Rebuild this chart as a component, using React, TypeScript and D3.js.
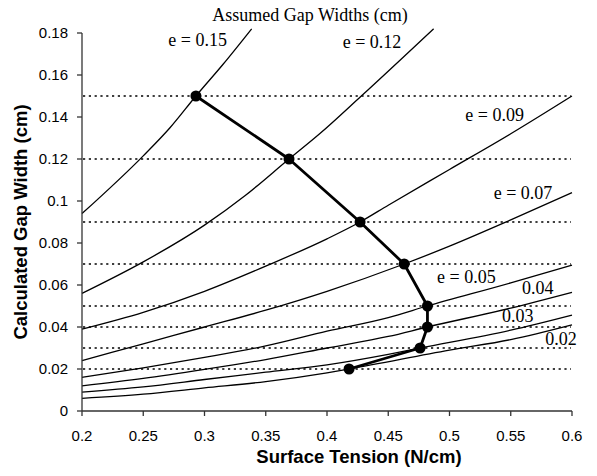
import React from "react";
import * as d3 from "d3";

// ---- data ----
const xTicks = [0.2, 0.25, 0.3, 0.35, 0.4, 0.45, 0.5, 0.55, 0.6];
const yTicks = [0, 0.02, 0.04, 0.06, 0.08, 0.1, 0.12, 0.14, 0.16, 0.18];
const guideLevels = [0.02, 0.03, 0.04, 0.05, 0.07, 0.09, 0.12, 0.15];

const curveE015: [number, number][] = [
  [0.2, 0.094], [0.25, 0.1215], [0.272, 0.135], [0.293, 0.15], [0.315, 0.165], [0.3385, 0.182],
];
const curveE012: [number, number][] = [
  [0.2, 0.056], [0.25, 0.071], [0.3, 0.0885], [0.333, 0.1025], [0.369, 0.12], [0.394, 0.132], [0.428, 0.15], [0.487, 0.182],
];
const curveE009: [number, number][] = [
  [0.2, 0.039], [0.25, 0.047], [0.3, 0.057], [0.35, 0.069], [0.4, 0.082], [0.427, 0.09], [0.45, 0.098], [0.5, 0.115], [0.55, 0.132], [0.6, 0.15],
];
const curveE007: [number, number][] = [
  [0.2, 0.024], [0.25, 0.032], [0.3, 0.04], [0.35, 0.048], [0.4, 0.057], [0.463, 0.07], [0.5, 0.0785], [0.55, 0.091], [0.6, 0.104],
];
const curveE005: [number, number][] = [
  [0.2, 0.016], [0.25, 0.0205], [0.3, 0.0255], [0.35, 0.031], [0.4, 0.038], [0.45, 0.0445], [0.482, 0.05], [0.55, 0.061], [0.6, 0.0695],
];
const curveE004: [number, number][] = [
  [0.2, 0.012], [0.25, 0.0155], [0.3, 0.0198], [0.35, 0.0245], [0.4, 0.03], [0.45, 0.0355], [0.482, 0.04], [0.55, 0.049], [0.6, 0.0565],
];
const curveE003: [number, number][] = [
  [0.2, 0.009], [0.25, 0.0115], [0.3, 0.015], [0.35, 0.0185], [0.4, 0.022], [0.45, 0.027], [0.476, 0.03], [0.55, 0.0385], [0.6, 0.0457],
];
const curveE002: [number, number][] = [
  [0.2, 0.006], [0.25, 0.008], [0.3, 0.011], [0.35, 0.014], [0.4, 0.0182], [0.418, 0.02], [0.5, 0.029], [0.55, 0.034], [0.6, 0.041],
];
const solutionPoints: [number, number][] = [
  [0.293, 0.15], [0.369, 0.12], [0.427, 0.09], [0.463, 0.07], [0.482, 0.05], [0.482, 0.04], [0.476, 0.03], [0.418, 0.02],
];
const curveLabelTexts = ["e = 0.15", "e = 0.12", "e = 0.09", "e = 0.07", "e = 0.05", "0.04", "0.03", "0.02"];
const curveLabelX = [0.2705, 0.4128, 0.5129, 0.5361, 0.4898, 0.5592, 0.5429, 0.5782];
const curveLabelY = [0.1736, 0.1729, 0.1382, 0.101, 0.0611, 0.0559, 0.0424, 0.0313];

const curves = [curveE015, curveE012, curveE009, curveE007, curveE005, curveE004, curveE003, curveE002];

// ---- layout ----
const W = 597;
const H = 476;
const left = 82;
const right = 572;
const top = 33;
const bottom = 411;

export default function App() {
  const x = d3.scaleLinear().domain([0.2, 0.6]).range([left, right]);
  const y = d3.scaleLinear().domain([0, 0.18]).range([bottom, top]);
  const line = d3
    .line<[number, number]>()
    .x((d) => x(d[0]))
    .y((d) => y(d[1]))
    .curve(d3.curveMonotoneX);
  const straight = d3
    .line<[number, number]>()
    .x((d) => x(d[0]))
    .y((d) => y(d[1]));

  const sans = "'Liberation Sans', Arial, Helvetica, sans-serif";
  const serif = "'Liberation Serif', 'Times New Roman', Times, serif";

  return (
    <svg
      width={W}
      height={H}
      style={{ position: "absolute", left: 0, top: 0, background: "#fff" }}
    >
      <rect x={0} y={0} width={W} height={H} fill="#fff" />
      {/* dotted guide lines */}
      {guideLevels.map((v) => (
        <line
          key={"g" + v}
          x1={x(0.2) + 1}
          x2={x(0.6) - 1}
          y1={y(v)}
          y2={y(v)}
          stroke="#000"
          strokeWidth={1.3}
          strokeDasharray="2.2 3.6"
        />
      ))}
      {/* curves */}
      {curves.map((c, i) => (
        <path key={"c" + i} d={line(c) || ""} fill="none" stroke="#000" strokeWidth={1.3} />
      ))}
      {/* solution path */}
      <path d={straight(solutionPoints) || ""} fill="none" stroke="#000" strokeWidth={2.8} strokeLinejoin="round" />
      {solutionPoints.map((p, i) => (
        <circle key={"p" + i} cx={x(p[0])} cy={y(p[1])} r={5.5} fill="#000" />
      ))}
      {/* axes */}
      <line x1={left} x2={left} y1={top} y2={bottom} stroke="#333" strokeWidth={1.3} />
      <line x1={left} x2={right} y1={bottom} y2={bottom} stroke="#333" strokeWidth={1.3} />
      {yTicks.map((v) => (
        <g key={"yt" + v}>
          <line x1={left - 5} x2={left} y1={y(v)} y2={y(v)} stroke="#333" strokeWidth={1.3} />
          <text
            x={left - 14}
            y={y(v)}
            dy="0.36em"
            textAnchor="end"
            fontFamily={sans}
            fontSize={15}
            fill="#000"
          >
            {String(v)}
          </text>
        </g>
      ))}
      {xTicks.map((v) => (
        <g key={"xt" + v}>
          <line x1={x(v)} x2={x(v)} y1={bottom} y2={bottom + 5} stroke="#333" strokeWidth={1.3} />
          <text
            x={x(v)}
            y={bottom + 30}
            textAnchor="middle"
            fontFamily={sans}
            fontSize={15}
            fill="#000"
          >
            {String(v)}
          </text>
        </g>
      ))}
      {/* curve labels */}
      {curveLabelTexts.map((t, i) => (
        <text
          key={"l" + i}
          x={x(curveLabelX[i])}
          y={y(curveLabelY[i])}
          fontFamily={serif}
          fontSize={18}
          fill="#000"
        >
          {t}
        </text>
      ))}
      {/* titles */}
      <text x={310} y={21} textAnchor="middle" fontFamily={serif} fontSize={18} fill="#000">
        Assumed Gap Widths (cm)
      </text>
      <text
        x={359}
        y={463}
        textAnchor="middle"
        fontFamily={sans}
        fontSize={18.5}
        fontWeight="bold"
        fill="#000"
      >
        Surface Tension (N/cm)
      </text>
      <text
        transform={`translate(27, ${(top + bottom) / 2}) rotate(-90)`}
        textAnchor="middle"
        fontFamily={sans}
        fontSize={18.5}
        fontWeight="bold"
        fill="#000"
      >
        Calculated Gap Width (cm)
      </text>
    </svg>
  );
}
